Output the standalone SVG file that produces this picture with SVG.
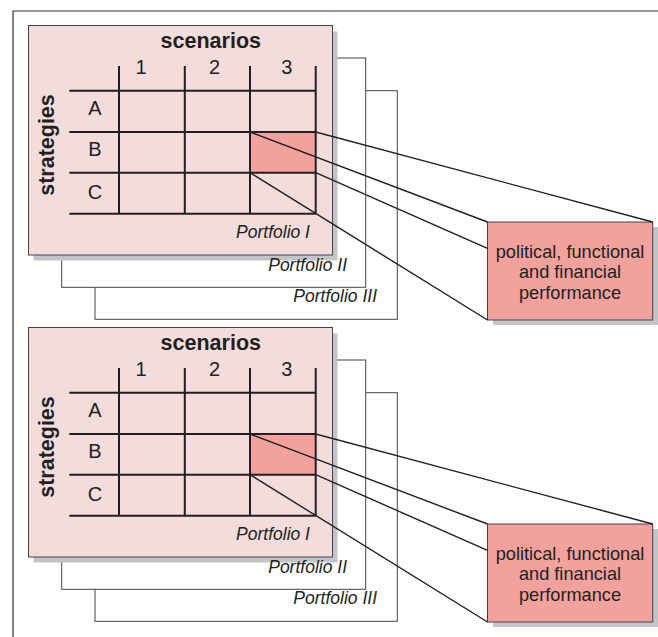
<svg xmlns="http://www.w3.org/2000/svg" width="658" height="637" viewBox="0 0 658 637">
<defs>
<style>
.frame{fill:none;stroke:#333;stroke-width:1.2}
.back{fill:#fff;stroke:#444;stroke-width:1}
.shadow{fill:#c2c4ca}
.front{fill:#f3dcdc;stroke:#444;stroke-width:1}
.hi{fill:#f2a19d}
.grid{stroke:#231f20;stroke-width:2;fill:none}
.conn{stroke:#231f20;stroke-width:1.4;fill:none}
.box{fill:#f2a19d;stroke:#444;stroke-width:1}
text{font-family:"Liberation Sans",Arial,sans-serif;fill:#231f20}
.lbl{font-size:20px;text-anchor:middle}
.bold{font-size:21.5px;font-weight:bold;text-anchor:middle}
.port{font-size:17.5px;font-style:italic;text-anchor:end}
.btxt{font-size:18.2px;text-anchor:middle}
</style>
<g id="panelset">
<rect class="back" x="95" y="90.7" width="302.3" height="228.6"/>
<rect class="back" x="61.7" y="58" width="304" height="229.3"/>
<rect class="shadow" x="33.5" y="31.5" width="304" height="229"/>
<rect class="front" x="28.5" y="25.5" width="304" height="229.5"/>
<text class="port" x="377" y="301.7">Portfolio III</text>
<text class="port" x="347" y="270.5">Portfolio II</text>
<text class="port" x="310" y="238.3">Portfolio I</text>
<rect class="hi" x="250" y="132" width="65.7" height="40.7"/>
<path class="grid" d="M119 66V213.7M184.8 66V213.7M250 66V213.7M315.7 66V213.7M69.3 90.7H315.7M69.3 132H315.7M69.3 172.7H315.7M69.3 213.7H315.7"/>
<text class="bold" x="210.8" y="48.3">scenarios</text>
<text class="lbl" x="141" y="74.3">1</text>
<text class="lbl" x="214.5" y="74.3">2</text>
<text class="lbl" x="286.7" y="74.3">3</text>
<text class="lbl" x="95" y="115">A</text>
<text class="lbl" x="95" y="156.3">B</text>
<text class="lbl" x="95" y="198.6">C</text>
<text class="bold" transform="translate(54 145) rotate(-90)">strategies</text>
</g>
</defs>
<path class="frame" d="M13 637V11H658"/>
<g id="top-portfolios"><use href="#panelset"/></g>
<g id="bottom-portfolios"><use href="#panelset" transform="translate(0 302)"/></g>
<g id="top-performance">
<rect class="shadow" x="493" y="227" width="165" height="98"/>
<rect class="box" x="487.5" y="222" width="165.2" height="98"/>
<text class="btxt" x="570" y="257.5">political, functional</text>
<text class="btxt" x="570" y="278">and financial</text>
<text class="btxt" x="570" y="298.5">performance</text>
</g>
<g id="bottom-performance">
<rect class="shadow" x="493" y="529" width="165" height="98"/>
<rect class="box" x="487.5" y="524" width="165.2" height="98"/>
<text class="btxt" x="570" y="559.5">political, functional</text>
<text class="btxt" x="570" y="580">and financial</text>
<text class="btxt" x="570" y="600.5">performance</text>
</g>
<g id="connectors">
<path class="conn" d="M315.7 132L652.7 222M250 132L487.5 222M315.7 172.7L487.5 248.3M250 172.7L487.5 320"/>
<path class="conn" d="M315.7 434L652.7 524M250 434L487.5 524M315.7 474.7L487.5 550.3M250 474.7L487.5 622"/>
</g>
</svg>
